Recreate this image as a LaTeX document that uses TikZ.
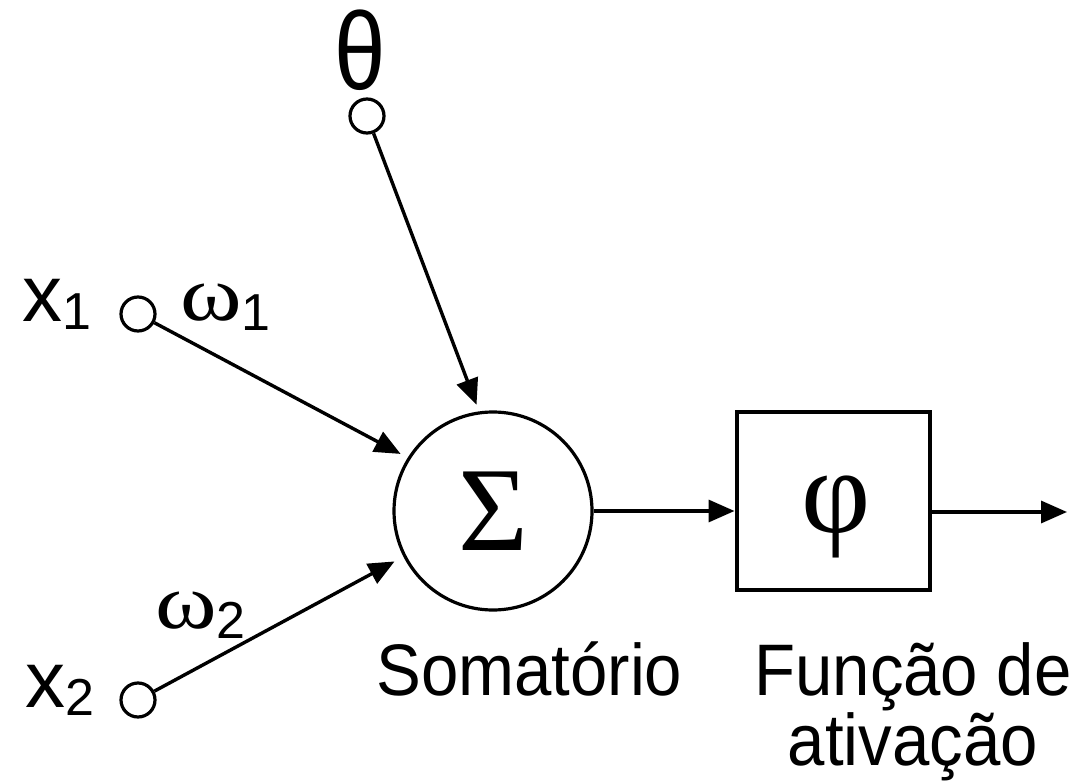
\documentclass[tikz,border=0pt]{standalone}
\usepackage{fontspec}
\setmainfont{Liberation Sans}
\newfontfamily\captionfont[FakeStretch=0.92]{Liberation Sans}
\newfontfamily\greekserif{Liberation Serif}
\usetikzlibrary{arrows.meta}

\begin{document}
\begin{tikzpicture}[x=1pt,y=-1pt,
  wire/.style={line width=3.4pt},
  arr/.style={wire,-{Triangle[length=26pt,width=22pt]}},
  port/.style={circle,draw,line width=3.2pt,minimum size=34pt,inner sep=0pt},
  lbl/.style={inner sep=0pt,font=\fontsize{80}{80}\selectfont},
  caption/.style={inner sep=0pt,font=\captionfont\fontsize{73}{68}\selectfont},
  greek/.style={inner sep=0pt,font=\greekserif\fontsize{120}{120}\selectfont}
]
\useasboundingbox (0,0) rectangle (1086,783);

% input terminals
\node[port] (theta) at (367,116) {};
\node[port] (x1) at (138,314) {};
\node[port] (x2) at (138,700) {};

% summing junction and activation block
\node[circle,draw,line width=3.2pt,minimum size=198pt,greek] (sum) at (493,511) {Σ};
\node[draw,line width=4pt,minimum width=193pt,minimum height=178pt,inner sep=0pt] (act) at (833,501) {};
\node[greek] (phi) at (836,517) {φ};
\coordinate (out) at (1067,512);

% connectors
\draw[arr,shorten >=7pt] (theta) -- (sum.98);
\draw[arr,shorten >=8pt] (x1) -- (sum.148);
\draw[arr,shorten >=10pt] (x2) -- (sum.207);
\draw[arr] (sum.east) -- (sum.east -| act.west);
\draw[arr] (out -| act.east) -- (out);

% labels
\node[inner sep=0pt] (lth) at (360,50) {\fontsize{110}{110}\selectfont\scalebox{0.84}[1]{θ}};
\node[lbl,anchor=base west] (lx1) at (22,322) {x\raisebox{-8pt}{\fontsize{52}{52}\selectfont 1}};
\node[lbl,anchor=base west] (lx2) at (25,707) {x\raisebox{-8pt}{\fontsize{52}{52}\selectfont 2}};
\node[lbl,anchor=base west] (lw1) at (180,320) {{\greekserif\fontsize{78}{78}\selectfont\scalebox{1.2}[1]{ω}}\raisebox{-10pt}{\fontsize{52}{52}\selectfont 1}};
\node[lbl,anchor=base west] (lw2) at (155,628) {{\greekserif\fontsize{78}{78}\selectfont\scalebox{1.2}[1]{ω}}\raisebox{-10pt}{\fontsize{52}{52}\selectfont 2}};
\node[caption,anchor=base west] (lsum) at (376,695) {Somatório};
\node[caption,anchor=base,align=center] (lact) at (913,765) {Função de\\ativação};
\end{tikzpicture}
\end{document}
